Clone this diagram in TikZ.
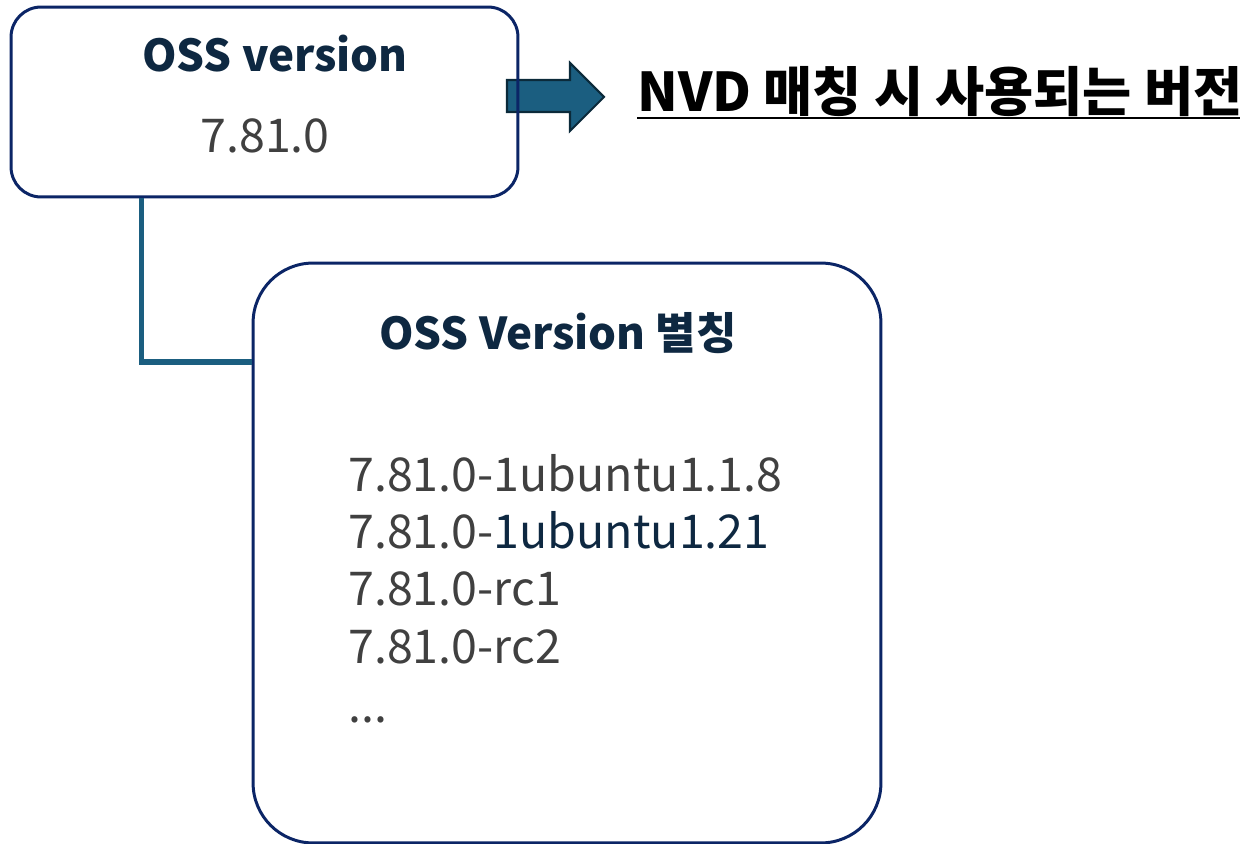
\documentclass[tikz,border=0pt]{standalone}
\usepackage{fontspec}
\setmainfont{Noto Sans CJK KR}
\usepackage{tikz}
\usepackage{xcolor}
\definecolor{boxnavy}{HTML}{0B2566}
\definecolor{linkteal}{HTML}{1B5E80}
\definecolor{arrowedge}{HTML}{0B2A3A}
\definecolor{titleink}{HTML}{0E2841}
\definecolor{numgray}{HTML}{404040}

\begin{document}
\begin{tikzpicture}[x=0.02cm,y=-0.02cm,
  panel/.style={draw=boxnavy,line width=1.7pt,inner sep=0pt},
  heading/.style={font=\bfseries\fontsize{25}{28}\selectfont,text=titleink,inner sep=0pt},
  version/.style={font=\fontsize{26.5}{30}\selectfont,text=numgray,inner sep=0pt},
  link/.style={draw=linkteal,line width=3.2pt},
  blockarrow/.style={fill=linkteal,draw=arrowedge,line width=1.2pt,line join=miter}]
\useasboundingbox (0,0) rectangle (1248,844);
% pointer to the note
\draw[blockarrow] (507,80) -- (570,80) -- (570,63) -- (604,97) -- (570,131) -- (570,112) -- (507,112) -- cycle;
% upper box with the matched version
\node[panel,rounded corners=0.6cm,minimum width=10.14cm,minimum height=3.8cm] (ossbox) at (264.5,102) {};
\node[heading,anchor=base] (osstitle) at (275,72) {OSS version};
\node[version,anchor=base] (ossnum) at (265,153) {7.81.0};
\node[anchor=base west,inner sep=0pt,font=\bfseries\fontsize{30.4}{34}\selectfont] (nvdnote) at (637,112) {NVD 매칭 시 사용되는 버전};
\draw[line width=1.6pt] (nvdnote.base west) ++(0,6) -- ++(603,0);
% lower box with the aliases
\node[panel,rounded corners=1.2cm,minimum width=12.56cm,minimum height=11.6cm] (aliasbox) at (567,553) {};
\node[heading,anchor=base] (aliastitle) at (558,350) {OSS Version 별칭};
\draw[link] (ossbox.south west) ++(132,0) |- (aliasbox.west |- 0,362);
\node[version,anchor=base west] (alias1) at (348,492) {7.81.0-1ubuntu1.1.8};
\node[version,anchor=base west] (alias2) at (348,548) {7.81.0-\textcolor{titleink}{1ubuntu1.21}};
\node[version,anchor=base west] (alias3) at (348,605) {7.81.0-rc1};
\node[version,anchor=base west] (alias4) at (348,663) {7.81.0-rc2};
\node[version,anchor=base west] (alias5) at (348,722) {...};
\end{tikzpicture}
\end{document}
